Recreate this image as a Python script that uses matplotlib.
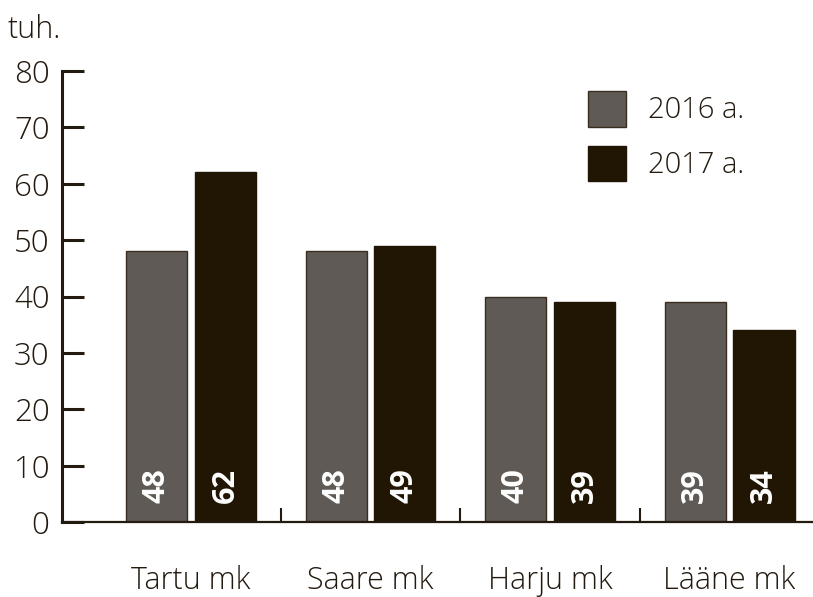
import matplotlib
matplotlib.use("Agg")
import matplotlib.pyplot as plt
from matplotlib.patches import Patch
import numpy as np

categories = ["Tartu mk", "Saare mk", "Harju mk", "Lääne mk"]
series_names = ["2016 a.", "2017 a."]
values_2016 = [48, 48, 40, 39]
values_2017 = [62, 49, 39, 34]
y_ticks = [0, 10, 20, 30, 40, 50, 60, 70, 80]
y_unit = "tuh."

txt = "#231a10"
c16 = "#5f5a55"
c17 = "#211503"
edge = "#3a2e20"

plt.rcParams['font.family'] = ['Open Sans', 'DejaVu Sans']

fig = plt.figure(figsize=(8.13, 5.97), dpi=100)
ax = fig.add_axes([62/813, 75/597, (813-62)/813, 451/597])

x = np.arange(len(categories))
w = 0.34
off = 0.192
b1 = ax.bar(x - off, values_2016, w, color=c16, edgecolor=edge, linewidth=1.0, label=series_names[0])
b2 = ax.bar(x + off, values_2017, w, color=c17, edgecolor=c17, linewidth=1.0, label=series_names[1])

for bars, vals in ((b1, values_2016), (b2, values_2017)):
    for rect, v in zip(bars, vals):
        ax.text(rect.get_x() + rect.get_width()/2, 3.3, str(v), rotation=90,
                ha='center', va='bottom', color='white', fontsize=22, fontweight='bold')

ax.set_xlim(-0.7187, 3.465)
ax.set_ylim(0, 80)
ax.set_yticks(y_ticks)
ax.set_yticklabels([str(t) for t in y_ticks], fontsize=22.5, color=txt, fontweight='light')
ax.tick_params(axis='y', direction='in', length=16, width=2.2, color=txt, pad=9)
ax.set_xticks(x)
ax.set_xticklabels(categories, fontsize=22, color=txt, fontweight='light')
ax.tick_params(axis='x', which='major', length=0, pad=31)
ax.set_xticks([0.5, 1.5, 2.5], minor=True)
ax.tick_params(axis='x', which='minor', direction='in', length=10, width=1.5, color=txt)

for s in ('top', 'right'):
    ax.spines[s].set_visible(False)
ax.spines['left'].set_linewidth(2.2)
ax.spines['left'].set_color(txt)
ax.spines['bottom'].set_linewidth(1.6)
ax.spines['bottom'].set_color(txt)

fig.text(8/813, 1 - 38/597, y_unit, fontsize=22, color=txt, fontweight='light', va='baseline', ha='left')

handles = [Patch(facecolor=c16, edgecolor=edge, linewidth=1.0),
           Patch(facecolor=c17, edgecolor=c17, linewidth=1.0)]
leg = fig.legend(handles, series_names, loc='upper left', bbox_to_anchor=(588/813, 1 - 91/597),
                 frameon=False, fontsize=21, handlelength=1.3, handleheight=1.5,
                 handletextpad=0.75, labelspacing=0.65, borderaxespad=0, borderpad=0)
for t in leg.get_texts():
    t.set_color(txt)
    t.set_fontweight('light')

fig.savefig("out.png", dpi=100)
